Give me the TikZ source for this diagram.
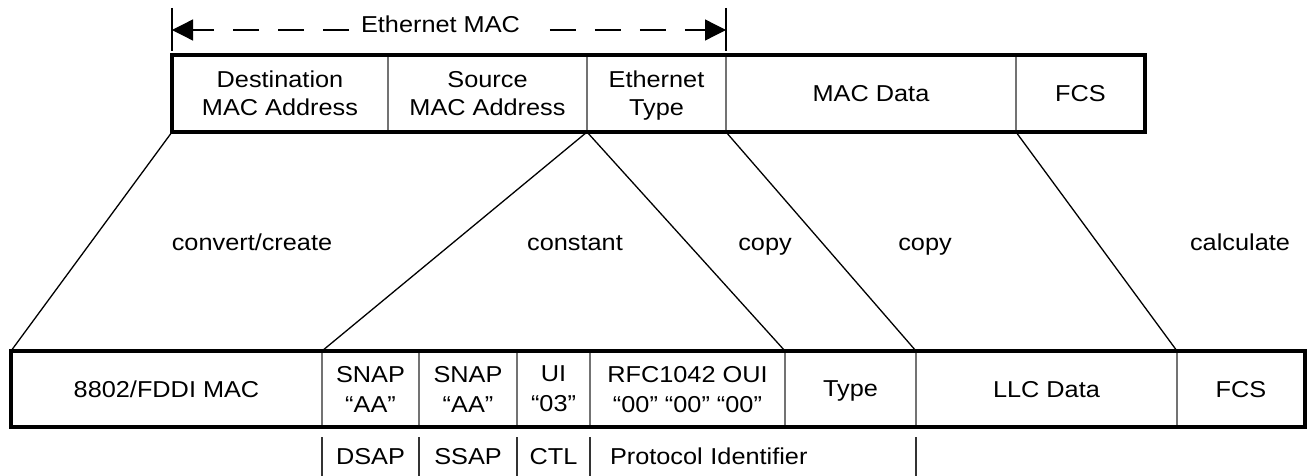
\documentclass[tikz,border=0pt]{standalone}
\usepackage{fontspec}
\setmainfont{Liberation Sans}[FakeStretch=1.1]
\usetikzlibrary{arrows.meta}
\begin{document}
\begin{tikzpicture}[x=1pt,y=-1pt,
  every node/.style={font=\fontsize{23}{28}\selectfont, inner sep=0pt, outer sep=0pt, text depth=0pt},
  fld/.style={minimum height=77pt, align=center},
  bfld/.style={minimum height=76pt, align=center, font=\fontsize{23}{30}\selectfont},
  sub/.style={minimum height=39pt},
  frame/.style={line width=4pt},
  div/.style={line width=1.1pt, black!55},
  sep/.style={line width=1.2pt, black!80},
  diag/.style={line width=1.3pt},
  tick/.style={line width=1.5pt},
  dimline/.style={line width=1.3pt, dash pattern=on 26pt off 19pt, -{Triangle[length=21pt,width=21pt]}},
  lbl/.style={anchor=base}]
\useasboundingbox (0,0) rectangle (1307,476);

% top frame fields
\node[fld, minimum width=216pt] (dst)   at (280,93.5)   {Destination\\MAC Address};
\node[fld, minimum width=199pt] (src)   at (487.5,93.5) {Source\\MAC Address};
\node[fld, minimum width=139pt] (etype) at (656.5,93.5) {Ethernet\\Type};
\node[fld, minimum width=290pt] (mdata) at (871,93.5)   {MAC Data};
\node[fld, minimum width=129pt] (fcsa)  at (1080.5,93.5) {FCS};

% bottom frame fields
\node[bfld, minimum width=311pt] (fddi)  at (166.5,389) {8802/FDDI MAC};
\node[bfld, minimum width=97pt]  (snapa) at (370.5,389) {SNAP\\“AA”};
\node[bfld, minimum width=98pt]  (snapb) at (468,389)   {SNAP\\“AA”};
\node[bfld, minimum width=73pt]  (ui)    at (553.5,389) {UI\\“03”};
\node[bfld, minimum width=195pt] (oui)   at (687.5,389) {RFC1042 OUI\\“00” “00” “00”};
\node[bfld, minimum width=131pt] (type)  at (850.5,389) {Type};
\node[bfld, minimum width=261pt] (llc)   at (1046.5,389) {LLC Data};
\node[bfld, minimum width=128pt] (fcsb)  at (1241,389)  {FCS};

% sub labels
\node[sub, minimum width=97pt] (dsap) at (370.5,456.5) {DSAP};
\node[sub, minimum width=98pt] (ssap) at (468,456.5)   {SSAP};
\node[sub, minimum width=73pt] (ctl)  at (553.5,456.5) {CTL};
\node[sub, text width=286pt, inner xsep=20pt, align=left] (pid) at (753,456.5) {Protocol Identifier};

% mapping labels
\node[lbl] (lconv)  at (252,250)  {convert/create};
\node[lbl] (lconst) at (575,250)  {constant};
\node[lbl] (lcopya) at (765,250)  {copy};
\node[lbl] (lcopyb) at (925,250)  {copy};
\node[lbl] (lcalc)  at (1240,250) {calculate};

% Ethernet MAC dimension
\node[lbl] (emac) at (440.5,33) {Ethernet MAC};
\coordinate (tl) at (172,30);
\coordinate (tr) at (726,30);
\coordinate (tlt) at (172,8);
\coordinate (tlb) at (172,51);
\coordinate (trt) at (726,8);
\coordinate (trb) at (726,51);
\draw[tick] (tlt) -- (tlb);
\draw[tick] (trt) -- (trb);
\draw[dimline, shorten <=12pt] (emac.west |- tl) -- (tl);
\draw[dimline, shorten <=30pt] (emac.east |- tr) -- (tr);

% dividers
\foreach \n in {dst,src,etype,mdata}
  \draw[div] (\n.north east) -- (\n.south east);
\foreach \n in {fddi,snapa,snapb,ui,oui,type,llc}
  \draw[div] (\n.north east) -- (\n.south east);

% sub label separators
\foreach \n in {dsap,ssap,ctl,pid}
  \draw[sep] (\n.north west) -- (\n.south west);
\draw[sep] (pid.north east) -- (pid.south east);

% mapping lines
\draw[diag] (dst.south west) -- (fddi.north west);
\draw[diag] (src.south east) -- (snapa.north west);
\draw[diag] (src.south east) -- (oui.north east);
\draw[diag] (etype.south east) -- (type.north east);
\draw[diag] (mdata.south east) -- (llc.north east);

% frames
\draw[frame] (dst.north west) rectangle (fcsa.south east);
\draw[frame] (fddi.north west) rectangle (fcsb.south east);
\end{tikzpicture}
\end{document}
